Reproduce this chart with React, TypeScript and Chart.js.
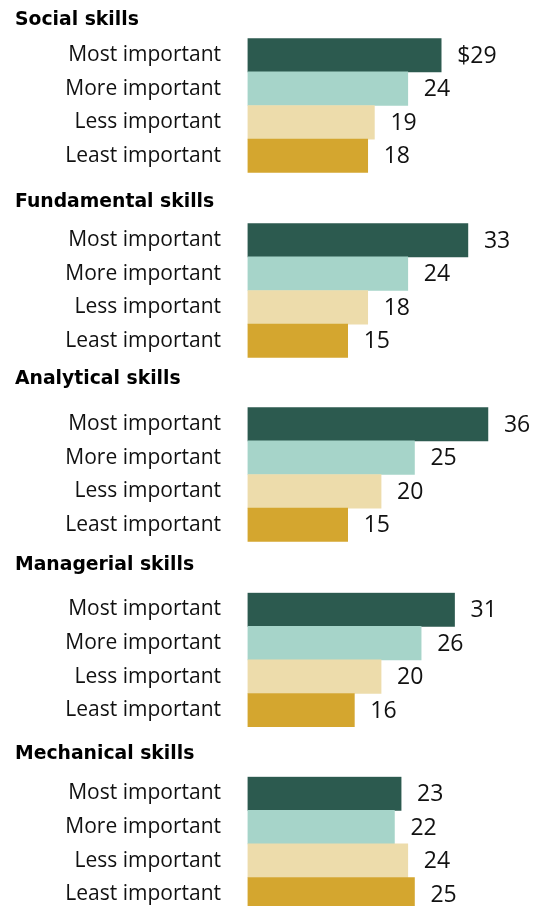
import React, { useEffect, useRef } from "react";
import { Chart, registerables } from "chart.js";

Chart.register(...registerables);

// ---------- data ----------
const categories = ["Most important", "More important", "Less important", "Least important"];
const groupTitles = ["Social skills", "Fundamental skills", "Analytical skills", "Managerial skills", "Mechanical skills"];
const socialValues = [29, 24, 19, 18];
const fundamentalValues = [33, 24, 18, 15];
const analyticalValues = [36, 25, 20, 15];
const managerialValues = [31, 26, 20, 16];
const mechanicalValues = [23, 22, 24, 25];
const groupValues = [socialValues, fundamentalValues, analyticalValues, managerialValues, mechanicalValues];

// ---------- style / layout ----------
const barColors = ["#2c5a4f", "#a6d4c9", "#eddcab", "#d4a62f"];
const titleCapTops = [13, 195, 371.7, 558, 746.7];
const barTops = [38.3, 223.3, 407.3, 592.7, 776.7];
const BLOCK_H = 134.4;
const TITLE_SIZE = 18.8;
const TITLE_PAD_TOP = 2;
const LEFT_PAD = 15;
const AXIS_LEFT = 247.5;
const X_MAX = 43.2;
const LABEL_FONT = "'Open Sans', 'Noto Sans', sans-serif";
const TITLE_FONT = "'DejaVu Sans', sans-serif";

const valueLabelPlugin = {
  id: "valueLabels",
  afterDatasetsDraw(chart: any) {
    const ctx = chart.ctx;
    const g = chart.options.plugins.valueLabels.groupIndex;
    const meta = chart.getDatasetMeta(0);
    const data = chart.data.datasets[0].data;
    ctx.save();
    ctx.font = `23px ${LABEL_FONT}`;
    ctx.fillStyle = "#111";
    ctx.textAlign = "left";
    ctx.textBaseline = "middle";
    meta.data.forEach((bar: any, i: number) => {
      const v = data[i];
      const txt = g === 0 && i === 0 ? `$${v}` : `${v}`;
      ctx.fillText(txt, bar.x + 16, bar.y + 1);
    });
    ctx.restore();
  },
};

function GroupChart({ index }: { index: number }) {
  const ref = useRef<HTMLCanvasElement | null>(null);
  const canvasTop = Math.round(titleCapTops[index] - 4);
  const headH = barTops[index] - canvasTop;
  const height = Math.ceil(headH + BLOCK_H);
  const bottomPad = height - headH - BLOCK_H;
  const titleBottom = headH - TITLE_PAD_TOP - TITLE_SIZE;

  useEffect(() => {
    if (!ref.current) return;
    const chart = new Chart(ref.current, {
      type: "bar",
      data: {
        labels: categories,
        datasets: [
          {
            data: groupValues[index],
            backgroundColor: barColors,
            borderWidth: 0,
            barPercentage: 1,
            categoryPercentage: 1,
          },
        ],
      },
      options: {
        indexAxis: "y",
        responsive: false,
        animation: false,
        layout: { padding: { left: LEFT_PAD, right: 0, top: 0, bottom: bottomPad } },
        scales: {
          x: { display: false, min: 0, max: X_MAX },
          y: {
            grid: { display: false, drawTicks: false },
            border: { display: false },
            ticks: {
              padding: 26.5,
              color: "#111",
              font: { family: LABEL_FONT, size: 21 },
            },
            afterFit: (scale: any) => {
              scale.width = AXIS_LEFT - LEFT_PAD;
              scale.paddingTop = 0;
              scale.paddingBottom = 0;
            },
          },
        },
        plugins: {
          legend: { display: false },
          tooltip: { enabled: false },
          title: {
            display: true,
            text: groupTitles[index],
            align: "start",
            color: "#000",
            font: { family: TITLE_FONT, size: TITLE_SIZE, weight: "bold", lineHeight: 1 },
            padding: { top: TITLE_PAD_TOP, bottom: titleBottom },
          },
          valueLabels: { groupIndex: index },
        } as any,
      },
      plugins: [valueLabelPlugin],
    });
    return () => chart.destroy();
  }, [index]);

  return (
    <canvas
      ref={ref}
      width={536}
      height={height}
      style={{ position: "absolute", left: 0, top: canvasTop, width: 536, height, display: "block" }}
    />
  );
}

export default function App() {
  return (
    <div
      style={{
        position: "absolute",
        left: 0,
        top: 0,
        width: 536,
        height: 906,
        overflow: "hidden",
        background: "#fff",
      }}
    >
      {groupTitles.map((_, i) => (
        <GroupChart key={i} index={i} />
      ))}
    </div>
  );
}
